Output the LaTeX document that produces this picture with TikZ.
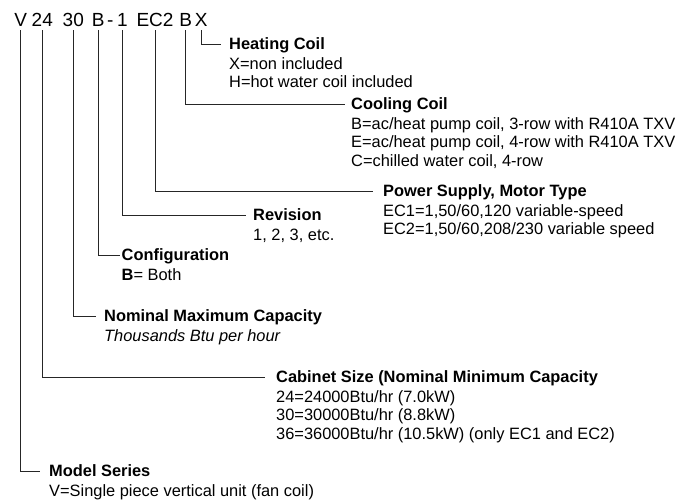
\documentclass[tikz,border=0pt]{standalone}
\usepackage{fontspec}
\setmainfont{Liberation Sans}
\newcommand\fstr{\rule{0pt}{12pt}}
\begin{document}
\begin{tikzpicture}[x=1pt,y=-1pt,
  ttl/.style={font=\fontsize{19}{19}\selectfont, inner xsep=0pt, inner ysep=3pt,
    text height=13.6pt, text depth=0pt, anchor=base},
  head/.style={font=\fontsize{16.4}{18.5}\selectfont\bfseries, anchor=west,
    inner ysep=0pt, text height=11.7pt, text depth=0pt},
  desc/.style={font=\fontsize{16.4}{18.5}\selectfont, anchor=north west,
    align=left, inner sep=0pt},
  conn/.style={line width=0.8pt, black!85}]
\useasboundingbox (0,0) rectangle (698,502);
% title letters
\node[ttl] (tV) at (20.7,27) {V};
\node[ttl] (t24) at (42.3,27) {24};
\node[ttl] (t30) at (73.3,27) {30};
\node[ttl] (tB) at (98.3,27) {B};
\node[ttl] (tdash) at (110.3,27) {-};
\node[ttl] (t1) at (122.3,27) {1};
\node[ttl] (tEC) at (155,27) {EC2};
\node[ttl] (tB2) at (185.7,27) {B};
\node[ttl] (tX) at (201.3,27) {X};
% headings
\node[head, inner xsep=8pt] (hHeat) at (221,44) {Heating Coil};
\node[desc] (dHeat) at ([xshift=8pt,yshift=-6.8pt]hHeat.south west) {\fstr X=non included\\H=hot water coil included};
\node[head, inner xsep=6pt] (hCool) at (345,104) {Cooling Coil};
\node[desc] (dCool) at ([xshift=6pt,yshift=-6.8pt]hCool.south west) {\fstr B=ac/heat pump coil, 3-row with R410A TXV\\E=ac/heat pump coil, 4-row with R410A TXV\\C=chilled water coil, 4-row};
\node[head, inner xsep=10pt] (hPow) at (373,191) {Power Supply, Motor Type};
\node[desc] (dPow) at ([xshift=10pt,yshift=-6.8pt]hPow.south west) {\fstr EC1=1,50/60,120 variable-speed\\EC2=1,50/60,208/230 variable speed};
\node[head, inner xsep=7pt] (hRev) at (246,215) {Revision};
\node[desc] (dRev) at ([xshift=7pt,yshift=-6.8pt]hRev.south west) {\fstr 1, 2, 3, etc.};
\node[head, inner xsep=1.5pt] (hConf) at (120,255) {Configuration};
\node[desc] (dConf) at ([xshift=1.5pt,yshift=-6.8pt]hConf.south west) {\fstr\textbf{B}= Both};
\node[head, inner xsep=8pt] (hNom) at (96,316) {Nominal Maximum Capacity};
\node[desc] (dNom) at ([xshift=8pt,yshift=-6.8pt]hNom.south west) {\fstr\itshape Thousands Btu per hour};
\node[head, inner xsep=11pt] (hCab) at (265,377) {Cabinet Size (Nominal Minimum Capacity};
\node[desc] (dCab) at ([xshift=11pt,yshift=-6.8pt]hCab.south west) {\fstr 24=24000Btu/hr (7.0kW)\\30=30000Btu/hr (8.8kW)\\36=36000Btu/hr (10.5kW) (only EC1 and EC2)};
\node[head, inner xsep=9pt] (hMod) at (40,471) {Model Series};
\node[desc] (dMod) at ([xshift=9pt,yshift=-6.8pt]hMod.south west) {\fstr V=Single piece vertical unit (fan coil)};
% connectors
\draw[conn] (tX.south) |- (hHeat.west);
\draw[conn] (tB2.south) |- (hCool.west);
\draw[conn] (tEC.south) |- (hPow.west);
\draw[conn] (t1.south) |- (hRev.west);
\draw[conn] (tB.south) |- (hConf.west);
\draw[conn] (t30.south) |- (hNom.west);
\draw[conn] (t24.south) |- (hCab.west);
\draw[conn] (tV.south) |- (hMod.west);
\end{tikzpicture}
\end{document}
